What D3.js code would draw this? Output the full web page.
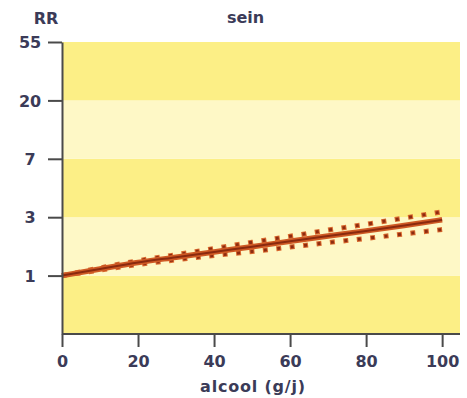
<!DOCTYPE html>
<html>
<head>
<meta charset="utf-8">
<script src="https://cdn.jsdelivr.net/npm/d3@7"></script>
<style>
  body { margin: 0; background: #fff; }
  svg text { font-family: "DejaVu Sans", sans-serif; font-weight: bold; fill: #3b3b58; }
</style>
</head>
<body>
<div id="chart"></div>
<script>
// alcohol dose (g/day) and relative risk
const doses = [0, 10, 20, 30, 40, 50, 60, 70, 80, 90, 100];
const rr = [1, 1.12, 1.25, 1.37, 1.5, 1.64, 1.8, 1.97, 2.15, 2.36, 2.6];
const rrUpper = [1, 1.14, 1.29, 1.43, 1.59, 1.77, 1.96, 2.18, 2.41, 2.68, 2.98];
const rrLower = [1, 1.10, 1.21, 1.31, 1.41, 1.51, 1.63, 1.76, 1.89, 2.04, 2.20];
const xTicks = [0, 20, 40, 60, 80, 100];
const yTickExp = [0, 1, 2, 3, 4];          // ticks at e^k
const yTickLabels = ['1', '3', '7', '20', '55'];

const W = 467, H = 398;
const margin = { top: 42, right: 7, bottom: 64, left: 62 };
const width = W - margin.left - margin.right;
const height = H - margin.top - margin.bottom;

const svg = d3.select('#chart').append('svg')
  .attr('width', W)
  .attr('height', H)
  .append('g')
  .attr('transform', 'translate(' + margin.left + ',' + margin.top + ')');

const x = d3.scaleLinear().domain([0, 104.7]).range([0, width]);
const y = d3.scaleLog().domain([Math.exp(-1), Math.exp(4)]).range([height, 0]);

// background bands between ticks
const bandEdges = [-1].concat(yTickExp);
const bands = d3.range(bandEdges.length - 1).map(i => ({ lo: Math.exp(bandEdges[i]), hi: Math.exp(bandEdges[i + 1]), dark: i % 2 === 0 }));
svg.selectAll('.band')
  .data(bands)
  .enter()
  .append('rect')
  .attr('class', 'band')
  .attr('x', 0)
  .attr('width', width)
  .attr('y', d => y(d.hi))
  .attr('height', d => y(d.lo) - y(d.hi))
  .attr('fill', d => d.dark ? '#fcef86' : '#fef8c6');

const pts = arr => doses.map((d, i) => [x(d), y(arr[i])]);
const line = d3.line().curve(d3.curveMonotoneX);

// confidence limits, square dots
[rrUpper, rrLower].forEach(arr => {
  svg.append('path')
    .attr('d', line(pts(arr)))
    .attr('fill', 'none')
    .attr('stroke', '#d8682e')
    .attr('stroke-width', 5)
    .attr('stroke-dasharray', '5 8.5');
  svg.append('path')
    .attr('d', line(pts(arr)))
    .attr('fill', 'none')
    .attr('stroke', '#8e2c10')
    .attr('stroke-width', 3)
    .attr('stroke-dasharray', '3 10.5')
    .attr('stroke-dashoffset', -1);
});

// central estimate
svg.append('path')
  .attr('d', line(pts(rr)))
  .attr('fill', 'none')
  .attr('stroke', '#cf5a24')
  .attr('stroke-width', 5.5);
svg.append('path')
  .attr('d', line(pts(rr)))
  .attr('fill', 'none')
  .attr('stroke', '#8a2a0e')
  .attr('stroke-width', 2);

// axes
const yAxis = d3.axisLeft(y)
  .tickValues(yTickExp.map(k => Math.exp(k)))
  .tickFormat((d, i) => yTickLabels[i])
  .tickSize(14)
  .tickSizeOuter(0);
const gy = svg.append('g').call(yAxis);
gy.selectAll('path, line').attr('stroke', '#4a4a4a').attr('stroke-width', 2);
gy.selectAll('text')
  .attr('x', -32)
  .attr('dy', '0.36em')
  .attr('text-anchor', 'middle')
  .style('font-size', '16px');

const xAxis = d3.axisBottom(x)
  .tickValues(xTicks)
  .tickSize(13)
  .tickSizeOuter(0);
const gx = svg.append('g').attr('transform', 'translate(0,' + height + ')').call(xAxis);
gx.selectAll('path, line').attr('stroke', '#4a4a4a').attr('stroke-width', 2);
gx.select('.domain').attr('d', 'M0,0H' + width);
gx.selectAll('text')
  .attr('y', 33)
  .attr('dy', 0)
  .style('font-size', '16px');

svg.selectAll('.domain').attr('fill', 'none');
svg.selectAll('.tick text').attr('fill', '#3b3b58');

// titles
svg.append('text')
  .attr('x', -16)
  .attr('y', 24 - margin.top)
  .attr('text-anchor', 'middle')
  .style('font-size', '16px')
  .text('RR');
svg.append('text')
  .attr('x', 245.5 - margin.left)
  .attr('y', 23 - margin.top)
  .attr('text-anchor', 'middle')
  .style('font-size', '16px')
  .text('sein');
svg.append('text')
  .attr('x', 253 - margin.left)
  .attr('y', 392 - margin.top)
  .attr('text-anchor', 'middle')
  .style('font-size', '16px')
  .style('letter-spacing', '0.8px')
  .text('alcool (g/j)');
</script>
</body>
</html>
